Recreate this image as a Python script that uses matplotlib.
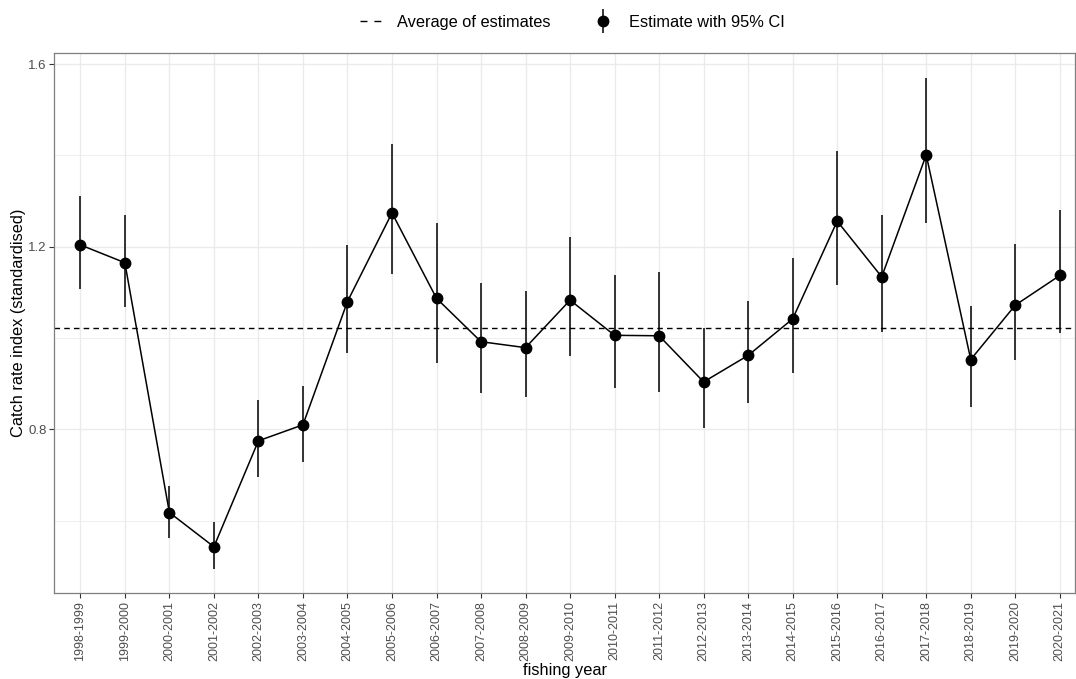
import matplotlib
matplotlib.use('Agg')
import matplotlib.pyplot as plt
from matplotlib.lines import Line2D

plt.rcParams['font.family'] = ['Liberation Sans', 'DejaVu Sans']

years = ['1998-1999', '1999-2000', '2000-2001', '2001-2002', '2002-2003', '2003-2004',
         '2004-2005', '2005-2006', '2006-2007', '2007-2008', '2008-2009', '2009-2010',
         '2010-2011', '2011-2012', '2012-2013', '2013-2014', '2014-2015', '2015-2016',
         '2016-2017', '2017-2018', '2018-2019', '2019-2020', '2020-2021']
estimate = [1.204, 1.165, 0.618, 0.543, 0.775, 0.810, 1.080, 1.274, 1.087, 0.992, 0.979, 1.083,
            1.006, 1.005, 0.904, 0.962, 1.042, 1.256, 1.134, 1.401, 0.953, 1.072, 1.137]
ci_upper = [1.312, 1.269, 0.676, 0.598, 0.864, 0.896, 1.204, 1.424, 1.251, 1.120, 1.102, 1.221,
            1.138, 1.144, 1.021, 1.082, 1.175, 1.410, 1.269, 1.570, 1.070, 1.205, 1.280]
ci_lower = [1.107, 1.069, 0.563, 0.495, 0.696, 0.729, 0.967, 1.140, 0.945, 0.879, 0.872, 0.961,
            0.890, 0.881, 0.804, 0.857, 0.923, 1.116, 1.014, 1.251, 0.850, 0.953, 1.010]
average = 1.021

x = list(range(len(years)))
err_low = [e - l for e, l in zip(estimate, ci_lower)]
err_high = [u - e for e, u in zip(estimate, ci_upper)]

fig = plt.figure(figsize=(10.76, 6.79), dpi=100)
ax = fig.add_axes([0.0505, 0.1262, 0.9485, 0.7953])

# ggplot theme_bw look
ax.set_axisbelow(True)
for y in [0.6, 1.0, 1.4]:
    ax.axhline(y, color='#EBEBEB', linewidth=0.6, zorder=0)
ax.grid(True, which='major', color='#EBEBEB', linewidth=1.0)
for s in ax.spines.values():
    s.set_color('#7F7F7F')
    s.set_linewidth(0.9)

ax.axhline(average, color='black', linestyle=(0, (4, 3)), linewidth=1.0, zorder=2)
ax.plot(x, estimate, color='black', linewidth=1.1, zorder=3)
ax.errorbar(x, estimate, yerr=[err_low, err_high], fmt='o', color='black',
            markersize=7.5, elinewidth=1.1, capsize=0, zorder=4)

ax.set_xlim(-0.584, 22.34)
ax.set_ylim(0.4411, 1.6235)
ax.set_yticks([0.8, 1.2, 1.6])
ax.set_yticklabels(['0.8', '1.2', '1.6'])
ax.set_xticks(x)
ax.set_xticklabels(years, rotation=90)
ax.tick_params(axis='both', colors='#333333', labelcolor='#4D4D4D',
               length=3.5, width=0.8, pad=2)
ax.tick_params(axis='x', labelsize=9)
ax.tick_params(axis='y', labelsize=9.5)

ax.set_xlabel('fishing year', fontsize=11.8)
ax.set_ylabel('Catch rate index (standardised)', fontsize=11.8)
ax.xaxis.set_label_coords(0.5, -0.1426)
ax.yaxis.set_label_coords(-0.0356, 0.5)
ax.xaxis.label.set_va('center')
ax.yaxis.label.set_va('center')

# legend keys
dash_handle = Line2D([], [], color='black', linestyle=(0, (5, 5)), linewidth=1.0)
vbar = Line2D([], [], color='black', linestyle='None', marker='|',
              markersize=17, markeredgewidth=1.1)
dot = Line2D([], [], color='black', linestyle='None', marker='o', markersize=7.5)
fig.legend([dash_handle, (vbar, dot)], ['Average of estimates', 'Estimate with 95% CI'],
           loc='upper center', bbox_to_anchor=(0.532, 1.0), ncol=2, frameon=False,
           fontsize=11.8, handlelength=1.3, columnspacing=2.6, handletextpad=0.9)

fig.savefig('out.png', dpi=100)
